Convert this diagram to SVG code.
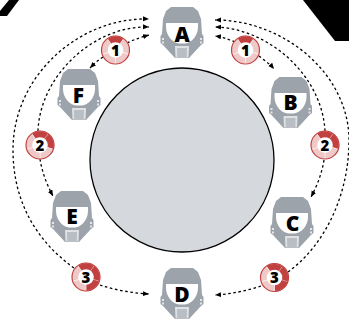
<svg xmlns="http://www.w3.org/2000/svg" width="349" height="322" viewBox="0 0 349 322">
<style>
.lb{font-family:"Open Sans","DejaVu Sans",sans-serif;font-weight:800;text-anchor:middle;fill:#000}
.hl{font-size:21px}
.nm{font-size:15px}
.c{fill:none;stroke:#000;stroke-width:1.3;stroke-dasharray:2.6 2.6}
.h{fill:#9ca3aa}
.dk{fill:#c0413f;stroke:#e6a9a7;stroke-width:.5}
.lt{fill:#eec9c8;stroke:#fff;stroke-width:.5}
.ctr{fill:#fff}
.rim{fill:none;stroke:#c0413f;stroke-width:1.2}
</style>
<defs>
<marker id="a" markerWidth="7" markerHeight="7" refX="6" refY="2.500" orient="auto" markerUnits="userSpaceOnUse"><path d="M0,0L6,2.500L0,5Z" fill="#000"/></marker>
<g id="helmet">
<path class="h" d="M-11,0H11L16,4L19,12L20,27L21.500,29V36L19,38L7,51H-7L-19,38L-21.500,36V29L-20,27L-19,12L-16,4Z"/>
<path d="M-16,16H16V20C16,29 9,36 3,36.500H-3C-9,36 -16,29 -16,20Z" fill="#fff"/>
<path d="M-7,39H7L6.500,50.500H-6.500Z" fill="#dfe2e5"/>
<path d="M-5,41H5L4.800,50.500H-4.800Z" fill="#b9bec4"/>
<path d="M-20,31h2v2h-2zM18,31h2v2h-2zM-20,34.500h2v2h-2zM18,34.500h2v2h-2z" fill="#e4e6e9"/>
</g>
<path id="s1" d="M0,0L-8.230,-11.330A14,14 0 0 1 8.230,-11.330Z"/>
<path id="s2" d="M0,0L8.230,-11.330A14,14 0 0 1 13.310,4.330Z"/>
<path id="s3" d="M0,0L13.310,4.330A14,14 0 0 1 0,14Z"/>
<path id="s4" d="M0,0L0,14A14,14 0 0 1 -13.310,4.330Z"/>
<path id="s5" d="M0,0L-13.310,4.330A14,14 0 0 1 -8.230,-11.330Z"/>
<g id="b1"><use href="#s1" class="dk"/><use href="#s2" class="lt"/><use href="#s3" class="lt"/><use href="#s4" class="lt"/><use href="#s5" class="lt"/><circle class="rim" r="14"/><circle class="ctr" r="7.800"/></g>
<g id="b2"><use href="#s1" class="dk"/><use href="#s2" class="dk"/><use href="#s3" class="lt"/><use href="#s4" class="lt"/><use href="#s5" class="lt"/><circle class="rim" r="14"/><circle class="ctr" r="7.800"/></g>
<g id="b3"><use href="#s1" class="dk"/><use href="#s2" class="dk"/><use href="#s3" class="dk"/><use href="#s4" class="lt"/><use href="#s5" class="lt"/><circle class="rim" r="14"/><circle class="ctr" r="7.800"/></g>
</defs>
<path d="M0,16H7L19,0H9L0,11Z" fill="#000"/>
<path d="M303,0H349V41H335Z" fill="#000"/>
<circle id="hub" cx="182" cy="160" r="92" fill="#d5d8dc" stroke="#000" stroke-width="1.300"/>
<g id="connectors">
<path class="c" marker-end="url(#a)" d="M127,43C135,39 142,37 149,35"/>
<path class="c" marker-end="url(#a)" d="M103,57C98,60 94,64 90,68"/>
<path class="c" marker-end="url(#a)" d="M235,42C228,39 222,37 215,36"/>
<path class="c" marker-end="url(#a)" d="M259,56C264,60 270,64 274,69"/>
<path class="c" marker-end="url(#a)" d="M38,131C40,75 95,25 149,27"/>
<path class="c" marker-end="url(#a)" d="M40,159C42,172 47,185 53,196"/>
<path class="c" marker-end="url(#a)" d="M325,131C322,75 268,28 215,27"/>
<path class="c" marker-end="url(#a)" d="M324,160C322,173 317,186 311,197"/>
<path class="c" marker-end="url(#a)" d="M74,268C35,240 13,200 13,150C13,75 80,17 149,19"/>
<path class="c" marker-end="url(#a)" d="M100,285C115,290 132,293 149,294"/>
<path class="c" marker-end="url(#a)" d="M288,272C325,245 349,195 349,140C349,75 285,20 215,20"/>
<path class="c" marker-end="url(#a)" d="M261,286C246,291 231,294 215,295"/>
</g>
<g id="node-a"><use href="#helmet" x="182" y="7"/><text class="lb hl" x="182" y="41.500">A</text></g>
<g id="node-b"><use href="#helmet" x="290.500" y="77"/><text class="lb hl" x="290.500" y="110">B</text></g>
<g id="node-c"><use href="#helmet" x="292" y="197"/><text class="lb hl" x="292.500" y="230.500">C</text></g>
<g id="node-d"><use href="#helmet" x="182" y="268"/><text class="lb hl" x="182" y="302">D</text></g>
<g id="node-e"><use href="#helmet" x="72" y="191"/><text class="lb hl" x="72" y="224">E</text></g>
<g id="node-f"><use href="#helmet" x="79" y="69"/><text class="lb hl" x="78.500" y="102.500">F</text></g>
<g id="badge-1a"><use href="#b1" x="115.500" y="50"/><text class="lb nm" x="115.500" y="55.500">1</text></g>
<g id="badge-1b"><use href="#b1" x="245.500" y="50"/><text class="lb nm" x="245.500" y="55.500">1</text></g>
<g id="badge-2a"><use href="#b2" x="40" y="145"/><text class="lb nm" x="40" y="150.500">2</text></g>
<g id="badge-2b"><use href="#b2" x="325" y="145"/><text class="lb nm" x="325" y="150.500">2</text></g>
<g id="badge-3a"><use href="#b3" x="86" y="277"/><text class="lb nm" x="86" y="282.500">3</text></g>
<g id="badge-3b"><use href="#b3" x="274.500" y="277.500"/><text class="lb nm" x="274.500" y="283">3</text></g>
</svg>
